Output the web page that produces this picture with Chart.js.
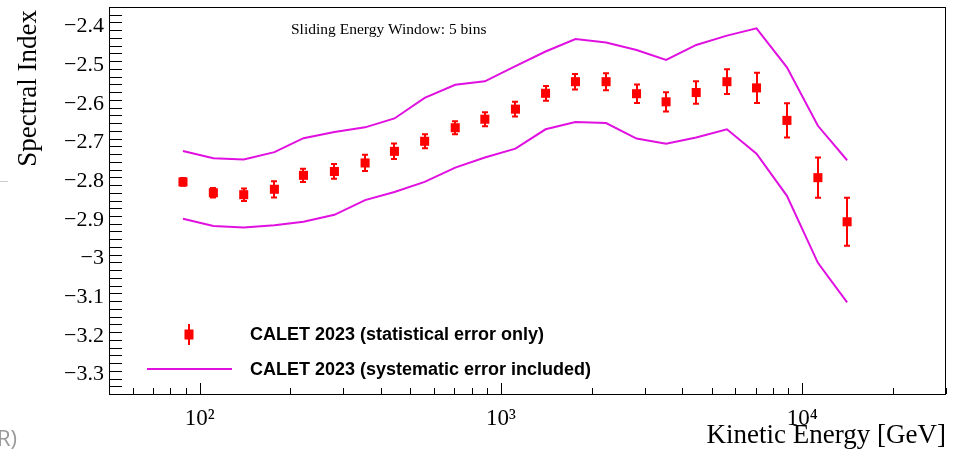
<!DOCTYPE html>
<html>
<head>
<meta charset="utf-8">
<script src="https://cdn.jsdelivr.net/npm/chart.js@4.4.1/dist/chart.umd.min.js"></script>
<style>
  html, body { margin: 0; padding: 0; background: #fff; }
  #wrap { width: 966px; height: 450px; position: relative; }
</style>
</head>
<body>
<div id="wrap"><canvas id="c"></canvas></div>
<script>
// ====== DATA ======
const energy = [88, 111, 140, 177, 221, 280, 354, 443, 558, 705, 884, 1117,
                1406, 1767, 2233, 2818, 3532, 4447, 5623, 7050, 8895, 11270, 14090];
const specIndex = [-2.802, -2.830, -2.835, -2.821, -2.785, -2.775, -2.753, -2.723,
                   -2.697, -2.662, -2.640, -2.614, -2.573, -2.543, -2.543, -2.574,
                   -2.595, -2.571, -2.543, -2.559, -2.643, -2.791, -2.905];
const statErr = [0.010, 0.012, 0.016, 0.021, 0.017, 0.019, 0.021, 0.020, 0.018,
                 0.017, 0.018, 0.019, 0.019, 0.020, 0.022, 0.024, 0.025, 0.029,
                 0.032, 0.039, 0.044, 0.052, 0.062];
const sysUpper = [-2.722, -2.741, -2.744, -2.725, -2.689, -2.673, -2.661, -2.638,
                  -2.585, -2.551, -2.542, -2.503, -2.465, -2.433, -2.442, -2.461,
                  -2.487, -2.448, -2.424, -2.405, -2.506, -2.657, -2.746];
const sysLower = [-2.897, -2.916, -2.920, -2.914, -2.905, -2.887, -2.849, -2.828,
                  -2.802, -2.765, -2.739, -2.716, -2.666, -2.647, -2.650, -2.690,
                  -2.703, -2.687, -2.666, -2.729, -2.838, -3.011, -3.113];

const xTicks = [100, 1000, 10000];
const xTickLabels = ['10\u00B2', '10\u00B3', '10\u2074'];
const yTicks = [-3.3, -3.2, -3.1, -3.0, -2.9, -2.8, -2.7, -2.6, -2.5, -2.4];

const legendLabels = ['CALET 2023 (statistical error only)',
                      'CALET 2023 (systematic error included)'];

const RED = '#ff0000';
const MAGENTA = '#e010e0';
const SERIF = '"Liberation Serif", "Times New Roman", serif';

// ====== UTIL ======
function pts(ys){ return energy.map((e, i) => ({ x: e, y: ys[i] })); }
function fmtY(v){ return (Math.round(v * 10) / 10).toString().replace('-', '\u2212'); }

// ROOT-ish decorations: frame, inward ticks, error bars, legend, texts
const rootDecor = {
  id: 'rootDecor',
  beforeDatasetsDraw(chart){
    const { ctx, scales: { x, y } } = chart;
    ctx.save();
    ctx.strokeStyle = RED;
    ctx.lineWidth = 2;
    energy.forEach((e, i) => {
      const px = Math.round(x.getPixelForValue(e));
      const y1 = y.getPixelForValue(specIndex[i] + statErr[i]);
      const y2 = y.getPixelForValue(specIndex[i] - statErr[i]);
      ctx.beginPath();
      ctx.moveTo(px, y1); ctx.lineTo(px, y2);
      ctx.moveTo(px - 3, y1); ctx.lineTo(px + 3, y1);
      ctx.moveTo(px - 3, y2); ctx.lineTo(px + 3, y2);
      ctx.stroke();
    });
    ctx.restore();
  },
  afterDraw(chart){
    const { ctx, chartArea: a, scales: { x, y } } = chart;
    ctx.save();
    // frame
    ctx.strokeStyle = '#000';
    ctx.lineWidth = 1;
    ctx.strokeRect(a.left + 0.5, a.top + 0.5, a.right - a.left - 1, a.bottom - a.top);

    // y ticks (inside, major 0.1 / minor 0.02)
    ctx.beginPath();
    for (let k = -335; k <= -235; k += 2){
      const v = k / 100;
      const py = Math.round(y.getPixelForValue(v)) + 0.5;
      if (py < a.top || py > a.bottom) continue;
      const major = (k % 10 === 0);
      ctx.moveTo(a.left, py);
      ctx.lineTo(a.left + (major ? 26 : 13), py);
    }
    // x ticks (inside, log decades + 2..9)
    for (let d = 10; d <= 100000; d *= 10){
      for (let m = 1; m <= 9; m++){
        const v = d * m;
        if (v < x.min || v > x.max) continue;
        const px = Math.round(x.getPixelForValue(v)) + 0.5;
        ctx.moveTo(px, a.bottom);
        ctx.lineTo(px, a.bottom - (m === 1 ? 11 : 6));
      }
    }
    ctx.stroke();

    // header text
    ctx.fillStyle = '#000';
    ctx.font = '15.5px ' + SERIF;
    ctx.textAlign = 'left';
    ctx.textBaseline = 'alphabetic';
    ctx.fillText('Sliding Energy Window: 5 bins', 291, 34);

    // axis titles
    ctx.font = '27px ' + SERIF;
    ctx.textAlign = 'right';
    ctx.fillText('Kinetic Energy [GeV]', a.right, 443);
    ctx.save();
    ctx.translate(36, 10);
    ctx.rotate(-Math.PI / 2);
    ctx.textAlign = 'right';
    ctx.textBaseline = 'alphabetic';
    ctx.fillText('Spectral Index', 0, 0);
    ctx.restore();

    // legend
    ctx.strokeStyle = RED;
    ctx.lineWidth = 2;
    ctx.beginPath();
    ctx.moveTo(189, 324); ctx.lineTo(189, 345);
    ctx.stroke();
    ctx.fillStyle = RED;
    ctx.fillRect(184.5, 329.5, 9, 10);
    ctx.strokeStyle = MAGENTA;
    ctx.beginPath();
    ctx.moveTo(147, 369); ctx.lineTo(232, 369);
    ctx.stroke();
    ctx.fillStyle = '#000';
    ctx.font = 'bold 18px "Liberation Sans", Arial, sans-serif';
    ctx.textAlign = 'left';
    ctx.textBaseline = 'middle';
    ctx.fillText(legendLabels[0], 250, 335);
    ctx.fillText(legendLabels[1], 250, 370);

    // leftovers of the screenshot at the left edge
    ctx.fillStyle = '#9a9a9a';
    ctx.font = '22px "Open Sans", sans-serif';
    ctx.textBaseline = 'alphabetic';
    ctx.fillText('R)', -3, 446);
    ctx.fillStyle = '#cccccc';
    ctx.fillRect(0, 181, 8, 1);
    ctx.restore();
  }
};

new Chart(document.getElementById('c'), {
  type: 'scatter',
  data: {
    datasets: [
      {
        label: legendLabels[0],
        data: pts(specIndex),
        showLine: false,
        pointStyle: 'rect',
        pointRadius: 6.4,
        pointHoverRadius: 6.4,
        backgroundColor: RED,
        borderWidth: 0,
        order: 0
      },
      {
        label: legendLabels[1],
        data: pts(sysUpper),
        showLine: true,
        borderColor: MAGENTA,
        borderWidth: 2,
        pointRadius: 0,
        tension: 0,
        order: 1
      },
      {
        label: legendLabels[1] + ' low',
        data: pts(sysLower),
        showLine: true,
        borderColor: MAGENTA,
        borderWidth: 2,
        pointRadius: 0,
        tension: 0,
        order: 1
      }
    ]
  },
  options: {
    responsive: true,
    maintainAspectRatio: false,
    animation: false,
    events: [],
    layout: { padding: { left: 5, right: 20, top: 7, bottom: 0 } },
    plugins: { legend: { display: false }, tooltip: { enabled: false } },
    scales: {
      x: {
        type: 'logarithmic',
        min: 50,
        max: 30000,
        grid: { display: false, drawTicks: false },
        border: { display: false },
        afterBuildTicks: s => { s.ticks = xTicks.map(v => ({ value: v })); },
        afterFit: s => { s.height = 56; s.paddingLeft = 0; s.paddingRight = 0; },
        ticks: {
          autoSkip: false,
          maxRotation: 0,
          padding: 11,
          color: '#000',
          font: { family: SERIF, size: 23 },
          callback: v => xTickLabels[xTicks.indexOf(v)] ?? ''
        }
      },
      y: {
        type: 'linear',
        min: -3.35,
        max: -2.35,
        grid: { display: false, drawTicks: false },
        border: { display: false },
        afterBuildTicks: s => { s.ticks = yTicks.map(v => ({ value: v })); },
        afterFit: s => { s.width = 104; s.paddingTop = 0; s.paddingBottom = 0; },
        ticks: {
          padding: 5,
          color: '#000',
          font: { family: SERIF, size: 22 },
          callback: v => fmtY(v)
        }
      }
    }
  },
  plugins: [rootDecor]
});
</script>
</body>
</html>
